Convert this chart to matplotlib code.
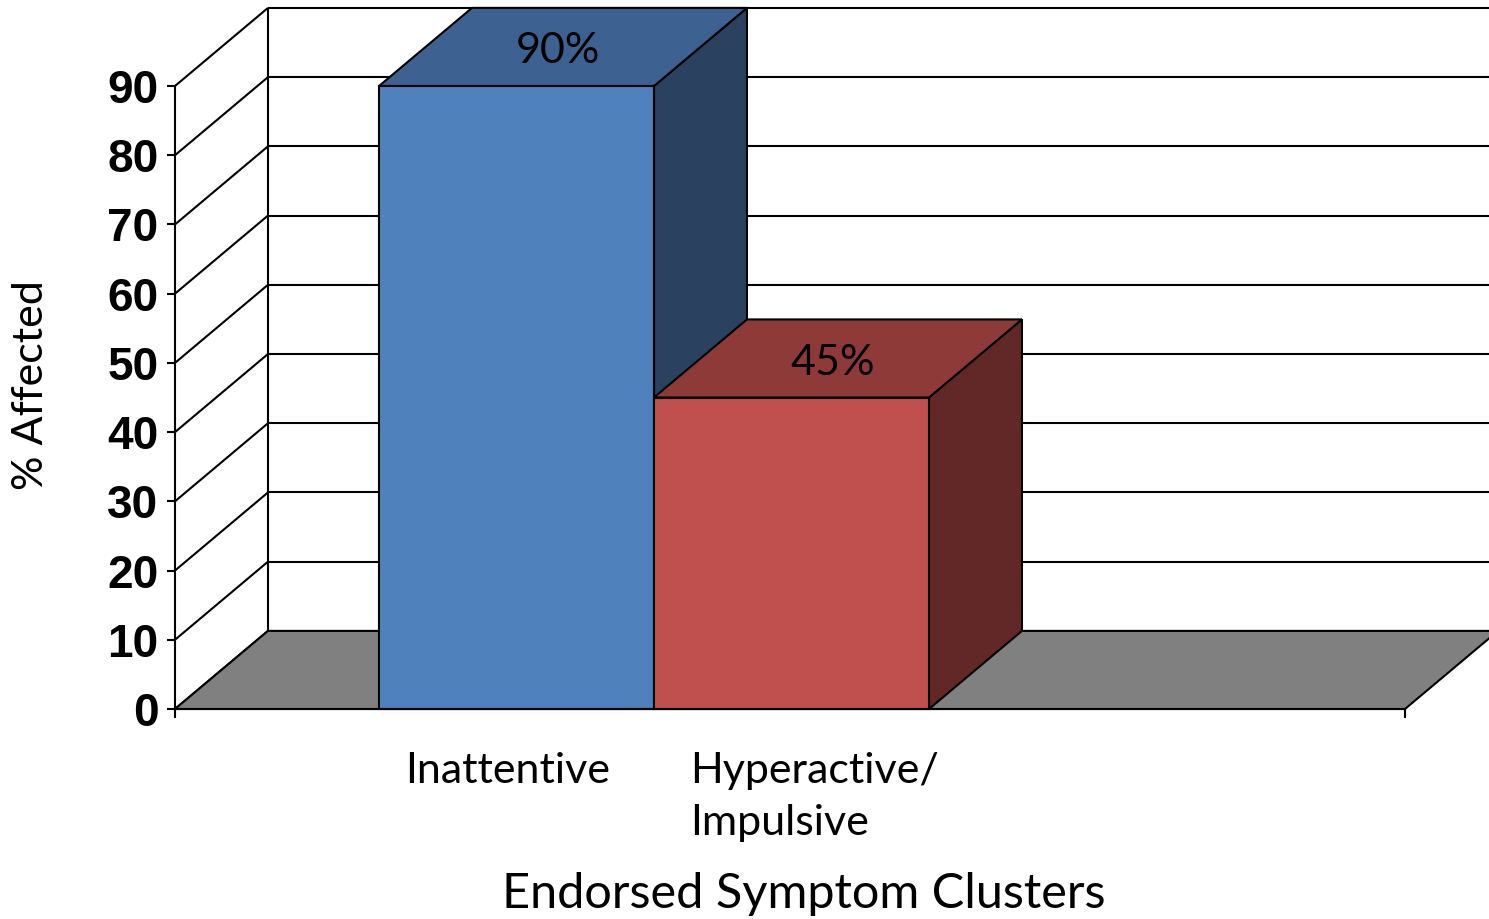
import numpy as np
import matplotlib
matplotlib.use("Agg")
import matplotlib.pyplot as plt
from matplotlib.patches import Polygon, Rectangle

# ---------------- data ----------------
categories = ["Inattentive", "Hyperactive/\nImpulsive"]
values = [90, 45]
value_labels = ["90%", "45%"]
yticks = list(range(0, 100, 10))
x_title = "Endorsed Symptom Clusters"
y_title = "% Affected"

# ---------------- style ----------------
front_colors = ["#4F81BD", "#C0504D"]
top_colors = ["#3D6291", "#8E3A38"]
side_colors = ["#2A4260", "#612827"]
floor_color = "#808080"
LW = 1.5
TEXT_FONT = ["Lato", "DejaVu Sans"]
TICK_FONT = ["Liberation Sans Narrow", "Liberation Sans", "DejaVu Sans"]

W, H = 1489, 919
fig = plt.figure(figsize=(W / 100, H / 100), dpi=100)
# front plane of the plot area
ax = fig.add_axes([175 / W, 1 - 709 / H, 1230 / W, 623 / H])
positions = np.arange(len(categories))
BAR_W = 1.0
X0, X1 = -1.242, 3.231          # front category axis extent
YMAX = 90
ax.set_xlim(X0, X1)
ax.set_ylim(0, YMAX)
DX, DY = 0.338, 11.28            # depth offset (back plane)

kw = dict(color="black", lw=LW, clip_on=False, solid_capstyle="butt")
# back wall gridlines and left wall diagonals
for t in yticks:
    ax.plot([X0 + DX, X1 + DX], [t + DY, t + DY], zorder=1, **kw)
    ax.plot([X0, X0 + DX], [t, t + DY], zorder=1, **kw)
ax.plot([X0 + DX, X0 + DX], [DY, YMAX + DY], zorder=1, **kw)

# floor
floor = Polygon([(X0, 0), (X1, 0), (X1 + DX, DY), (X0 + DX, DY)],
                closed=True, facecolor=floor_color, edgecolor="black",
                lw=LW, zorder=2, clip_on=False)
ax.add_patch(floor)

# bars
for i, (p, v) in enumerate(zip(positions, values)):
    xl, xr = p - BAR_W / 2, p + BAR_W / 2
    z = 3 + i * 3
    side = Polygon([(xr, 0), (xr + DX, DY), (xr + DX, v + DY), (xr, v)],
                   closed=True, facecolor=side_colors[i], edgecolor="black",
                   lw=LW, zorder=z, clip_on=False)
    top = Polygon([(xl, v), (xr, v), (xr + DX, v + DY), (xl + DX, v + DY)],
                  closed=True, facecolor=top_colors[i], edgecolor="black",
                  lw=LW, zorder=z + 1, clip_on=False)
    front = Rectangle((xl, 0), BAR_W, v, facecolor=front_colors[i],
                      edgecolor="black", lw=LW, zorder=z + 2, clip_on=False)
    ax.add_patch(side)
    ax.add_patch(top)
    ax.add_patch(front)
    # value label on the top face
    ax.annotate(value_labels[i], xy=(p + DX / 2, v + DY / 2),
                xytext=(-4, -3), textcoords="offset points",
                ha="center", va="center", fontsize=31,
                family=TEXT_FONT, color="black", zorder=20,
                annotation_clip=False)

# spines / ticks
for s in ["top", "right"]:
    ax.spines[s].set_visible(False)
for s in ["left", "bottom"]:
    ax.spines[s].set_linewidth(LW)
    ax.spines[s].set_zorder(15)
ax.set_facecolor("none")
ax.set_yticks(yticks)
ax.set_yticklabels([str(t) for t in yticks], fontsize=33, fontweight="bold",
                   family=TICK_FONT)
ax.tick_params(axis="y", direction="out", length=6, width=LW, pad=6)
ax.set_xticks([X0, X1])
ax.set_xticklabels(["", ""])
ax.tick_params(axis="x", direction="out", length=6.5, width=LW)

# category labels
ax.annotate(categories[0], xy=(positions[0], 0), xytext=(-6.5, -31),
            textcoords="offset points", ha="center", va="top",
            fontsize=31, family=TEXT_FONT, annotation_clip=False)
ax.annotate(categories[1], xy=(positions[1], 0), xytext=(-73, -31),
            textcoords="offset points", ha="left", va="top",
            fontsize=31, family=TEXT_FONT, linespacing=1.45,
            multialignment="left", annotation_clip=False)

# axis titles
fig.text(804 / W, 1 - 908 / H, x_title, ha="center", va="baseline",
         fontsize=35, family=TEXT_FONT)
fig.text(31 / W, 1 - 385 / H, y_title, ha="center", va="center",
         rotation=90, fontsize=31, family=TEXT_FONT)

fig.savefig("out.png", dpi=100, facecolor="white")
